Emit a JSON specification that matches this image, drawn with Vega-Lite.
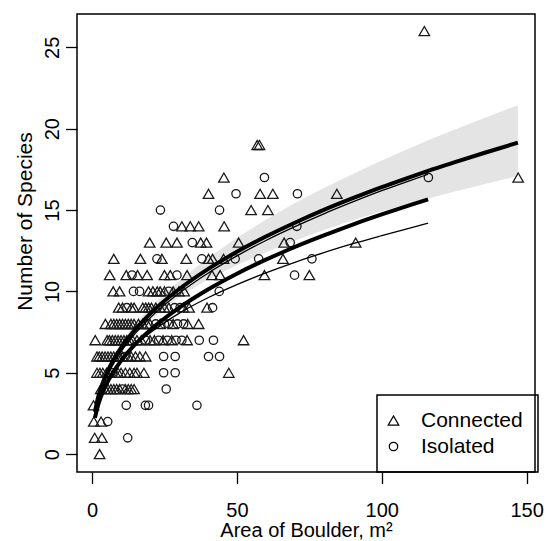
{
  "$schema": "https://vega.github.io/schema/vega-lite/v6.json",
  "width": 458,
  "height": 458,
  "autosize": {"type": "none"},
  "padding": {"left": 77, "top": 14, "right": 11, "bottom": 69},
  "background": "white",
  "config": {
    "font": "Liberation Sans",
    "view": {"stroke": "black", "strokeWidth": 1.5},
    "axis": {
      "domain": false, "grid": false, "ticks": true, "tickColor": "black", "tickWidth": 1.3,
      "tickSize": 11.5, "labelFontSize": 20, "labelColor": "black", "titleFontSize": 20,
      "titleFontWeight": "normal", "titleColor": "black", "labelFont": "Liberation Sans", "titleFont": "Liberation Sans"
    },
    "legend": {"strokeColor": "black", "strokeWidth": 1.5}
  },
  "datasets": {
    "points": [
      {"area": 2.6, "species": 0, "group": "Connected"},
      {"area": 0.9, "species": 1, "group": "Connected"},
      {"area": 3.4, "species": 1, "group": "Connected"},
      {"area": 12.3, "species": 1, "group": "Isolated"},
      {"area": 0.6, "species": 2, "group": "Connected"},
      {"area": 3.1, "species": 2, "group": "Connected"},
      {"area": 5.4, "species": 2, "group": "Isolated"},
      {"area": 0.5, "species": 3, "group": "Connected"},
      {"area": 11.8, "species": 3, "group": "Isolated"},
      {"area": 18.4, "species": 3, "group": "Isolated"},
      {"area": 19.5, "species": 3, "group": "Isolated"},
      {"area": 36.2, "species": 3, "group": "Isolated"},
      {"area": 3.0, "species": 4, "group": "Connected"},
      {"area": 4.5, "species": 4, "group": "Connected"},
      {"area": 5.5, "species": 4, "group": "Connected"},
      {"area": 6.5, "species": 4, "group": "Connected"},
      {"area": 7.5, "species": 4, "group": "Connected"},
      {"area": 8.5, "species": 4, "group": "Connected"},
      {"area": 9.5, "species": 4, "group": "Connected"},
      {"area": 10.5, "species": 4, "group": "Isolated"},
      {"area": 11.5, "species": 4, "group": "Connected"},
      {"area": 12.5, "species": 4, "group": "Connected"},
      {"area": 13.5, "species": 4, "group": "Connected"},
      {"area": 14.5, "species": 4, "group": "Connected"},
      {"area": 25.6, "species": 4, "group": "Isolated"},
      {"area": 1.7, "species": 5, "group": "Connected"},
      {"area": 2.7, "species": 5, "group": "Connected"},
      {"area": 3.7, "species": 5, "group": "Connected"},
      {"area": 5.0, "species": 5, "group": "Connected"},
      {"area": 6.0, "species": 5, "group": "Connected"},
      {"area": 7.0, "species": 5, "group": "Isolated"},
      {"area": 8.0, "species": 5, "group": "Connected"},
      {"area": 9.0, "species": 5, "group": "Connected"},
      {"area": 10.0, "species": 5, "group": "Connected"},
      {"area": 11.5, "species": 5, "group": "Connected"},
      {"area": 13.0, "species": 5, "group": "Connected"},
      {"area": 14.5, "species": 5, "group": "Connected"},
      {"area": 15.5, "species": 5, "group": "Connected"},
      {"area": 17.9, "species": 5, "group": "Connected"},
      {"area": 24.7, "species": 5, "group": "Isolated"},
      {"area": 28.7, "species": 5, "group": "Isolated"},
      {"area": 47.2, "species": 5, "group": "Connected"},
      {"area": 1.7, "species": 6, "group": "Connected"},
      {"area": 2.5, "species": 6, "group": "Connected"},
      {"area": 3.5, "species": 6, "group": "Connected"},
      {"area": 4.5, "species": 6, "group": "Connected"},
      {"area": 5.5, "species": 6, "group": "Connected"},
      {"area": 6.5, "species": 6, "group": "Connected"},
      {"area": 7.5, "species": 6, "group": "Connected"},
      {"area": 8.5, "species": 6, "group": "Connected"},
      {"area": 9.5, "species": 6, "group": "Connected"},
      {"area": 10.5, "species": 6, "group": "Connected"},
      {"area": 11.5, "species": 6, "group": "Isolated"},
      {"area": 12.5, "species": 6, "group": "Connected"},
      {"area": 13.5, "species": 6, "group": "Connected"},
      {"area": 15.0, "species": 6, "group": "Connected"},
      {"area": 16.5, "species": 6, "group": "Connected"},
      {"area": 18.5, "species": 6, "group": "Connected"},
      {"area": 24.7, "species": 6, "group": "Isolated"},
      {"area": 28.7, "species": 6, "group": "Isolated"},
      {"area": 40.2, "species": 6, "group": "Isolated"},
      {"area": 44.0, "species": 6, "group": "Isolated"},
      {"area": 1.1, "species": 7, "group": "Connected"},
      {"area": 5.2, "species": 7, "group": "Connected"},
      {"area": 6.0, "species": 7, "group": "Connected"},
      {"area": 7.0, "species": 7, "group": "Connected"},
      {"area": 8.0, "species": 7, "group": "Connected"},
      {"area": 9.0, "species": 7, "group": "Connected"},
      {"area": 10.0, "species": 7, "group": "Connected"},
      {"area": 11.0, "species": 7, "group": "Connected"},
      {"area": 12.0, "species": 7, "group": "Connected"},
      {"area": 13.0, "species": 7, "group": "Connected"},
      {"area": 14.0, "species": 7, "group": "Connected"},
      {"area": 15.5, "species": 7, "group": "Connected"},
      {"area": 17.0, "species": 7, "group": "Connected"},
      {"area": 18.5, "species": 7, "group": "Isolated"},
      {"area": 20.0, "species": 7, "group": "Connected"},
      {"area": 21.5, "species": 7, "group": "Connected"},
      {"area": 23.0, "species": 7, "group": "Isolated"},
      {"area": 24.5, "species": 7, "group": "Connected"},
      {"area": 26.0, "species": 7, "group": "Isolated"},
      {"area": 27.5, "species": 7, "group": "Connected"},
      {"area": 29.0, "species": 7, "group": "Isolated"},
      {"area": 31.0, "species": 7, "group": "Isolated"},
      {"area": 32.8, "species": 7, "group": "Connected"},
      {"area": 37.0, "species": 7, "group": "Isolated"},
      {"area": 41.9, "species": 7, "group": "Isolated"},
      {"area": 52.3, "species": 7, "group": "Connected"},
      {"area": 4.6, "species": 8, "group": "Connected"},
      {"area": 6.5, "species": 8, "group": "Connected"},
      {"area": 7.5, "species": 8, "group": "Connected"},
      {"area": 8.5, "species": 8, "group": "Connected"},
      {"area": 9.5, "species": 8, "group": "Connected"},
      {"area": 10.5, "species": 8, "group": "Connected"},
      {"area": 11.5, "species": 8, "group": "Connected"},
      {"area": 12.5, "species": 8, "group": "Connected"},
      {"area": 13.5, "species": 8, "group": "Connected"},
      {"area": 14.5, "species": 8, "group": "Connected"},
      {"area": 16.0, "species": 8, "group": "Connected"},
      {"area": 17.5, "species": 8, "group": "Connected"},
      {"area": 19.0, "species": 8, "group": "Connected"},
      {"area": 20.0, "species": 8, "group": "Connected"},
      {"area": 22.0, "species": 8, "group": "Isolated"},
      {"area": 23.5, "species": 8, "group": "Connected"},
      {"area": 25.0, "species": 8, "group": "Isolated"},
      {"area": 26.5, "species": 8, "group": "Isolated"},
      {"area": 28.0, "species": 8, "group": "Connected"},
      {"area": 29.5, "species": 8, "group": "Isolated"},
      {"area": 31.6, "species": 8, "group": "Isolated"},
      {"area": 33.0, "species": 8, "group": "Connected"},
      {"area": 36.8, "species": 8, "group": "Connected"},
      {"area": 9.2, "species": 9, "group": "Connected"},
      {"area": 10.5, "species": 9, "group": "Connected"},
      {"area": 12.0, "species": 9, "group": "Isolated"},
      {"area": 13.5, "species": 9, "group": "Connected"},
      {"area": 14.5, "species": 9, "group": "Connected"},
      {"area": 17.5, "species": 9, "group": "Connected"},
      {"area": 18.5, "species": 9, "group": "Connected"},
      {"area": 19.5, "species": 9, "group": "Connected"},
      {"area": 20.5, "species": 9, "group": "Connected"},
      {"area": 22.0, "species": 9, "group": "Connected"},
      {"area": 23.5, "species": 9, "group": "Connected"},
      {"area": 25.0, "species": 9, "group": "Connected"},
      {"area": 26.5, "species": 9, "group": "Connected"},
      {"area": 28.5, "species": 9, "group": "Isolated"},
      {"area": 30.4, "species": 9, "group": "Isolated"},
      {"area": 31.5, "species": 9, "group": "Connected"},
      {"area": 33.5, "species": 9, "group": "Connected"},
      {"area": 39.7, "species": 9, "group": "Connected"},
      {"area": 41.6, "species": 9, "group": "Isolated"},
      {"area": 7.3, "species": 10, "group": "Connected"},
      {"area": 9.5, "species": 10, "group": "Connected"},
      {"area": 14.3, "species": 10, "group": "Isolated"},
      {"area": 16.4, "species": 10, "group": "Isolated"},
      {"area": 19.5, "species": 10, "group": "Connected"},
      {"area": 21.0, "species": 10, "group": "Connected"},
      {"area": 22.5, "species": 10, "group": "Connected"},
      {"area": 23.5, "species": 10, "group": "Connected"},
      {"area": 25.0, "species": 10, "group": "Connected"},
      {"area": 26.5, "species": 10, "group": "Isolated"},
      {"area": 28.0, "species": 10, "group": "Connected"},
      {"area": 30.0, "species": 10, "group": "Connected"},
      {"area": 31.8, "species": 10, "group": "Connected"},
      {"area": 43.9, "species": 10, "group": "Isolated"},
      {"area": 6.1, "species": 11, "group": "Connected"},
      {"area": 11.8, "species": 11, "group": "Connected"},
      {"area": 13.8, "species": 11, "group": "Isolated"},
      {"area": 15.7, "species": 11, "group": "Connected"},
      {"area": 19.0, "species": 11, "group": "Connected"},
      {"area": 25.0, "species": 11, "group": "Connected"},
      {"area": 27.0, "species": 11, "group": "Connected"},
      {"area": 29.3, "species": 11, "group": "Isolated"},
      {"area": 32.8, "species": 11, "group": "Connected"},
      {"area": 41.4, "species": 11, "group": "Connected"},
      {"area": 44.2, "species": 11, "group": "Connected"},
      {"area": 59.5, "species": 11, "group": "Connected"},
      {"area": 69.9, "species": 11, "group": "Isolated"},
      {"area": 75.0, "species": 11, "group": "Connected"},
      {"area": 7.5, "species": 12, "group": "Connected"},
      {"area": 16.7, "species": 12, "group": "Connected"},
      {"area": 22.4, "species": 12, "group": "Isolated"},
      {"area": 24.1, "species": 12, "group": "Connected"},
      {"area": 32.5, "species": 12, "group": "Connected"},
      {"area": 37.9, "species": 12, "group": "Isolated"},
      {"area": 40.2, "species": 12, "group": "Connected"},
      {"area": 41.6, "species": 12, "group": "Connected"},
      {"area": 45.4, "species": 12, "group": "Connected"},
      {"area": 49.4, "species": 12, "group": "Isolated"},
      {"area": 57.5, "species": 12, "group": "Isolated"},
      {"area": 65.9, "species": 12, "group": "Connected"},
      {"area": 75.9, "species": 12, "group": "Isolated"},
      {"area": 19.9, "species": 13, "group": "Connected"},
      {"area": 25.6, "species": 13, "group": "Connected"},
      {"area": 29.3, "species": 13, "group": "Connected"},
      {"area": 34.6, "species": 13, "group": "Isolated"},
      {"area": 37.5, "species": 13, "group": "Connected"},
      {"area": 39.5, "species": 13, "group": "Connected"},
      {"area": 50.6, "species": 13, "group": "Connected"},
      {"area": 66.3, "species": 13, "group": "Connected"},
      {"area": 68.4, "species": 13, "group": "Isolated"},
      {"area": 91.0, "species": 13, "group": "Connected"},
      {"area": 28.1, "species": 14, "group": "Isolated"},
      {"area": 31.0, "species": 14, "group": "Connected"},
      {"area": 33.9, "species": 14, "group": "Connected"},
      {"area": 36.8, "species": 14, "group": "Connected"},
      {"area": 45.6, "species": 14, "group": "Connected"},
      {"area": 70.7, "species": 14, "group": "Isolated"},
      {"area": 23.6, "species": 15, "group": "Isolated"},
      {"area": 44.0, "species": 15, "group": "Isolated"},
      {"area": 54.9, "species": 15, "group": "Connected"},
      {"area": 60.7, "species": 15, "group": "Connected"},
      {"area": 40.2, "species": 16, "group": "Connected"},
      {"area": 49.7, "species": 16, "group": "Isolated"},
      {"area": 58.0, "species": 16, "group": "Connected"},
      {"area": 62.4, "species": 16, "group": "Connected"},
      {"area": 70.9, "species": 16, "group": "Isolated"},
      {"area": 84.5, "species": 16, "group": "Connected"},
      {"area": 45.5, "species": 17, "group": "Connected"},
      {"area": 59.5, "species": 17, "group": "Isolated"},
      {"area": 116.1, "species": 17, "group": "Isolated"},
      {"area": 147.1, "species": 17, "group": "Connected"},
      {"area": 57.0, "species": 19, "group": "Connected"},
      {"area": 57.8, "species": 19, "group": "Connected"},
      {"area": 114.7, "species": 26, "group": "Connected"}
    ],
    "curves": [
      {"area": 1, "species": 2.6, "curve": "A", "weight": "thick"},
      {"area": 2, "species": 3.43, "curve": "A", "weight": "thick"},
      {"area": 3, "species": 4.03, "curve": "A", "weight": "thick"},
      {"area": 5, "species": 4.95, "curve": "A", "weight": "thick"},
      {"area": 7, "species": 5.66, "curve": "A", "weight": "thick"},
      {"area": 10, "species": 6.53, "curve": "A", "weight": "thick"},
      {"area": 15, "species": 7.68, "curve": "A", "weight": "thick"},
      {"area": 20, "species": 8.62, "curve": "A", "weight": "thick"},
      {"area": 30, "species": 10.13, "curve": "A", "weight": "thick"},
      {"area": 40, "species": 11.37, "curve": "A", "weight": "thick"},
      {"area": 50, "species": 12.43, "curve": "A", "weight": "thick"},
      {"area": 60, "species": 13.37, "curve": "A", "weight": "thick"},
      {"area": 70, "species": 14.22, "curve": "A", "weight": "thick"},
      {"area": 80, "species": 15.01, "curve": "A", "weight": "thick"},
      {"area": 90, "species": 15.73, "curve": "A", "weight": "thick"},
      {"area": 100, "species": 16.41, "curve": "A", "weight": "thick"},
      {"area": 110, "species": 17.04, "curve": "A", "weight": "thick"},
      {"area": 116, "species": 17.41, "curve": "A", "weight": "thick"},
      {"area": 125, "species": 17.93, "curve": "A", "weight": "thick"},
      {"area": 135, "species": 18.49, "curve": "A", "weight": "thick"},
      {"area": 147, "species": 19.14, "curve": "A", "weight": "thick"},
      {"area": 1, "species": 2.45, "curve": "B", "weight": "thin"},
      {"area": 2, "species": 3.26, "curve": "B", "weight": "thin"},
      {"area": 3, "species": 3.84, "curve": "B", "weight": "thin"},
      {"area": 5, "species": 4.74, "curve": "B", "weight": "thin"},
      {"area": 7, "species": 5.44, "curve": "B", "weight": "thin"},
      {"area": 10, "species": 6.30, "curve": "B", "weight": "thin"},
      {"area": 15, "species": 7.44, "curve": "B", "weight": "thin"},
      {"area": 20, "species": 8.37, "curve": "B", "weight": "thin"},
      {"area": 30, "species": 9.88, "curve": "B", "weight": "thin"},
      {"area": 40, "species": 11.12, "curve": "B", "weight": "thin"},
      {"area": 50, "species": 12.18, "curve": "B", "weight": "thin"},
      {"area": 60, "species": 13.13, "curve": "B", "weight": "thin"},
      {"area": 70, "species": 13.98, "curve": "B", "weight": "thin"},
      {"area": 80, "species": 14.77, "curve": "B", "weight": "thin"},
      {"area": 90, "species": 15.50, "curve": "B", "weight": "thin"},
      {"area": 100, "species": 16.19, "curve": "B", "weight": "thin"},
      {"area": 110, "species": 16.83, "curve": "B", "weight": "thin"},
      {"area": 116, "species": 17.20, "curve": "B", "weight": "thin"},
      {"area": 1, "species": 2.23, "curve": "C", "weight": "thick"},
      {"area": 2, "species": 2.96, "curve": "C", "weight": "thick"},
      {"area": 3, "species": 3.50, "curve": "C", "weight": "thick"},
      {"area": 5, "species": 4.32, "curve": "C", "weight": "thick"},
      {"area": 7, "species": 4.95, "curve": "C", "weight": "thick"},
      {"area": 10, "species": 5.73, "curve": "C", "weight": "thick"},
      {"area": 15, "species": 6.77, "curve": "C", "weight": "thick"},
      {"area": 20, "species": 7.62, "curve": "C", "weight": "thick"},
      {"area": 30, "species": 8.99, "curve": "C", "weight": "thick"},
      {"area": 40, "species": 10.12, "curve": "C", "weight": "thick"},
      {"area": 50, "species": 11.09, "curve": "C", "weight": "thick"},
      {"area": 60, "species": 11.95, "curve": "C", "weight": "thick"},
      {"area": 70, "species": 12.73, "curve": "C", "weight": "thick"},
      {"area": 80, "species": 13.44, "curve": "C", "weight": "thick"},
      {"area": 90, "species": 14.11, "curve": "C", "weight": "thick"},
      {"area": 100, "species": 14.73, "curve": "C", "weight": "thick"},
      {"area": 110, "species": 15.32, "curve": "C", "weight": "thick"},
      {"area": 116, "species": 15.66, "curve": "C", "weight": "thick"},
      {"area": 1, "species": 2.49, "curve": "D", "weight": "thin"},
      {"area": 2, "species": 3.21, "curve": "D", "weight": "thin"},
      {"area": 3, "species": 3.72, "curve": "D", "weight": "thin"},
      {"area": 5, "species": 4.49, "curve": "D", "weight": "thin"},
      {"area": 7, "species": 5.08, "curve": "D", "weight": "thin"},
      {"area": 10, "species": 5.78, "curve": "D", "weight": "thin"},
      {"area": 15, "species": 6.71, "curve": "D", "weight": "thin"},
      {"area": 20, "species": 7.45, "curve": "D", "weight": "thin"},
      {"area": 30, "species": 8.65, "curve": "D", "weight": "thin"},
      {"area": 40, "species": 9.61, "curve": "D", "weight": "thin"},
      {"area": 50, "species": 10.42, "curve": "D", "weight": "thin"},
      {"area": 60, "species": 11.14, "curve": "D", "weight": "thin"},
      {"area": 70, "species": 11.79, "curve": "D", "weight": "thin"},
      {"area": 80, "species": 12.38, "curve": "D", "weight": "thin"},
      {"area": 90, "species": 12.93, "curve": "D", "weight": "thin"},
      {"area": 100, "species": 13.43, "curve": "D", "weight": "thin"},
      {"area": 110, "species": 13.91, "curve": "D", "weight": "thin"},
      {"area": 116, "species": 14.19, "curve": "D", "weight": "thin"}
    ],
    "band": [
      {"area": 1, "lower": 2.32, "upper": 2.91},
      {"area": 2, "lower": 3.15, "upper": 3.74},
      {"area": 3, "lower": 3.73, "upper": 4.35},
      {"area": 5, "lower": 4.65, "upper": 5.27},
      {"area": 10, "lower": 6.22, "upper": 6.86},
      {"area": 15, "lower": 7.35, "upper": 8.03},
      {"area": 20, "lower": 8.25, "upper": 9.01},
      {"area": 30, "lower": 9.65, "upper": 10.64},
      {"area": 40, "lower": 10.73, "upper": 12.05},
      {"area": 50, "lower": 11.62, "upper": 13.30},
      {"area": 60, "lower": 12.40, "upper": 14.41},
      {"area": 70, "lower": 13.11, "upper": 15.43},
      {"area": 80, "lower": 13.77, "upper": 16.36},
      {"area": 90, "lower": 14.37, "upper": 17.22},
      {"area": 100, "lower": 14.92, "upper": 18.05},
      {"area": 110, "lower": 15.42, "upper": 18.83},
      {"area": 116, "lower": 15.71, "upper": 19.29},
      {"area": 125, "lower": 16.12, "upper": 19.94},
      {"area": 135, "lower": 16.57, "upper": 20.63},
      {"area": 147, "lower": 17.09, "upper": 21.44}
    ]
  },
  "layer": [
    {
      "data": {"name": "band"},
      "mark": {"type": "area", "color": "#e4e4e4", "opacity": 1},
      "encoding": {
        "x": {"field": "area", "type": "quantitative", "scale": {"domain": [-5.2, 152.9], "nice": false, "zero": false},
              "axis": {"values": [0, 50, 100, 150], "labelPadding": 17, "title": "Area of Boulder, m²", "titleBaseline": "alphabetic", "titleY": 64.5}},
        "y": {"field": "lower", "type": "quantitative", "scale": {"domain": [-1.1, 27.05], "nice": false, "zero": false},
              "axis": {"values": [0, 5, 10, 15, 20, 25], "labelAngle": -90, "labelAlign": "center", "labelBaseline": "bottom", "labelPadding": 3,
                       "title": "Number of Species", "titleFontSize": 21, "titleBaseline": "alphabetic", "titleX": -46, "titleY": 207}},
        "y2": {"field": "upper"}
      }
    },
    {
      "data": {"name": "points"},
      "mark": {"type": "point", "filled": false, "strokeWidth": 1.3, "opacity": 1, "color": "#1a1a1a"},
      "encoding": {
        "x": {"field": "area", "type": "quantitative"},
        "y": {"field": "species", "type": "quantitative"},
        "shape": {"field": "group", "type": "nominal", "scale": {"domain": ["Connected", "Isolated"], "range": ["triangle-up", "circle"]},
                  "legend": {"orient": "none", "legendX": 300, "legendY": 381, "title": null, "padding": 15, "labelFontSize": 21,
                             "labelColor": "black", "labelOffset": 17, "rowPadding": 4, "symbolOffset": -9,
                             "labelExpr": "datum.label + ' '",
                             "symbolStrokeColor": "black", "symbolStrokeWidth": 1.3, "symbolFillColor": "transparent"}},
        "size": {"field": "group", "type": "nominal", "scale": {"domain": ["Connected", "Isolated"], "range": [110, 70]},
                 "legend": {"orient": "none", "legendX": 300, "legendY": 381, "title": null, "padding": 15, "labelFontSize": 21,
                             "labelColor": "black", "labelOffset": 17, "rowPadding": 4, "symbolOffset": -9,
                             "labelExpr": "datum.label + ' '",
                             "symbolStrokeColor": "black", "symbolStrokeWidth": 1.3, "symbolFillColor": "transparent"}}
      }
    },
    {
      "data": {"name": "curves"},
      "mark": {"type": "line", "color": "black", "interpolate": "monotone"},
      "encoding": {
        "x": {"field": "area", "type": "quantitative"},
        "y": {"field": "species", "type": "quantitative"},
        "detail": {"field": "curve", "type": "nominal"},
        "strokeWidth": {"field": "weight", "type": "nominal", "scale": {"domain": ["thick", "thin"], "range": [4, 1.3]}, "legend": null}
      }
    }
  ]
}
